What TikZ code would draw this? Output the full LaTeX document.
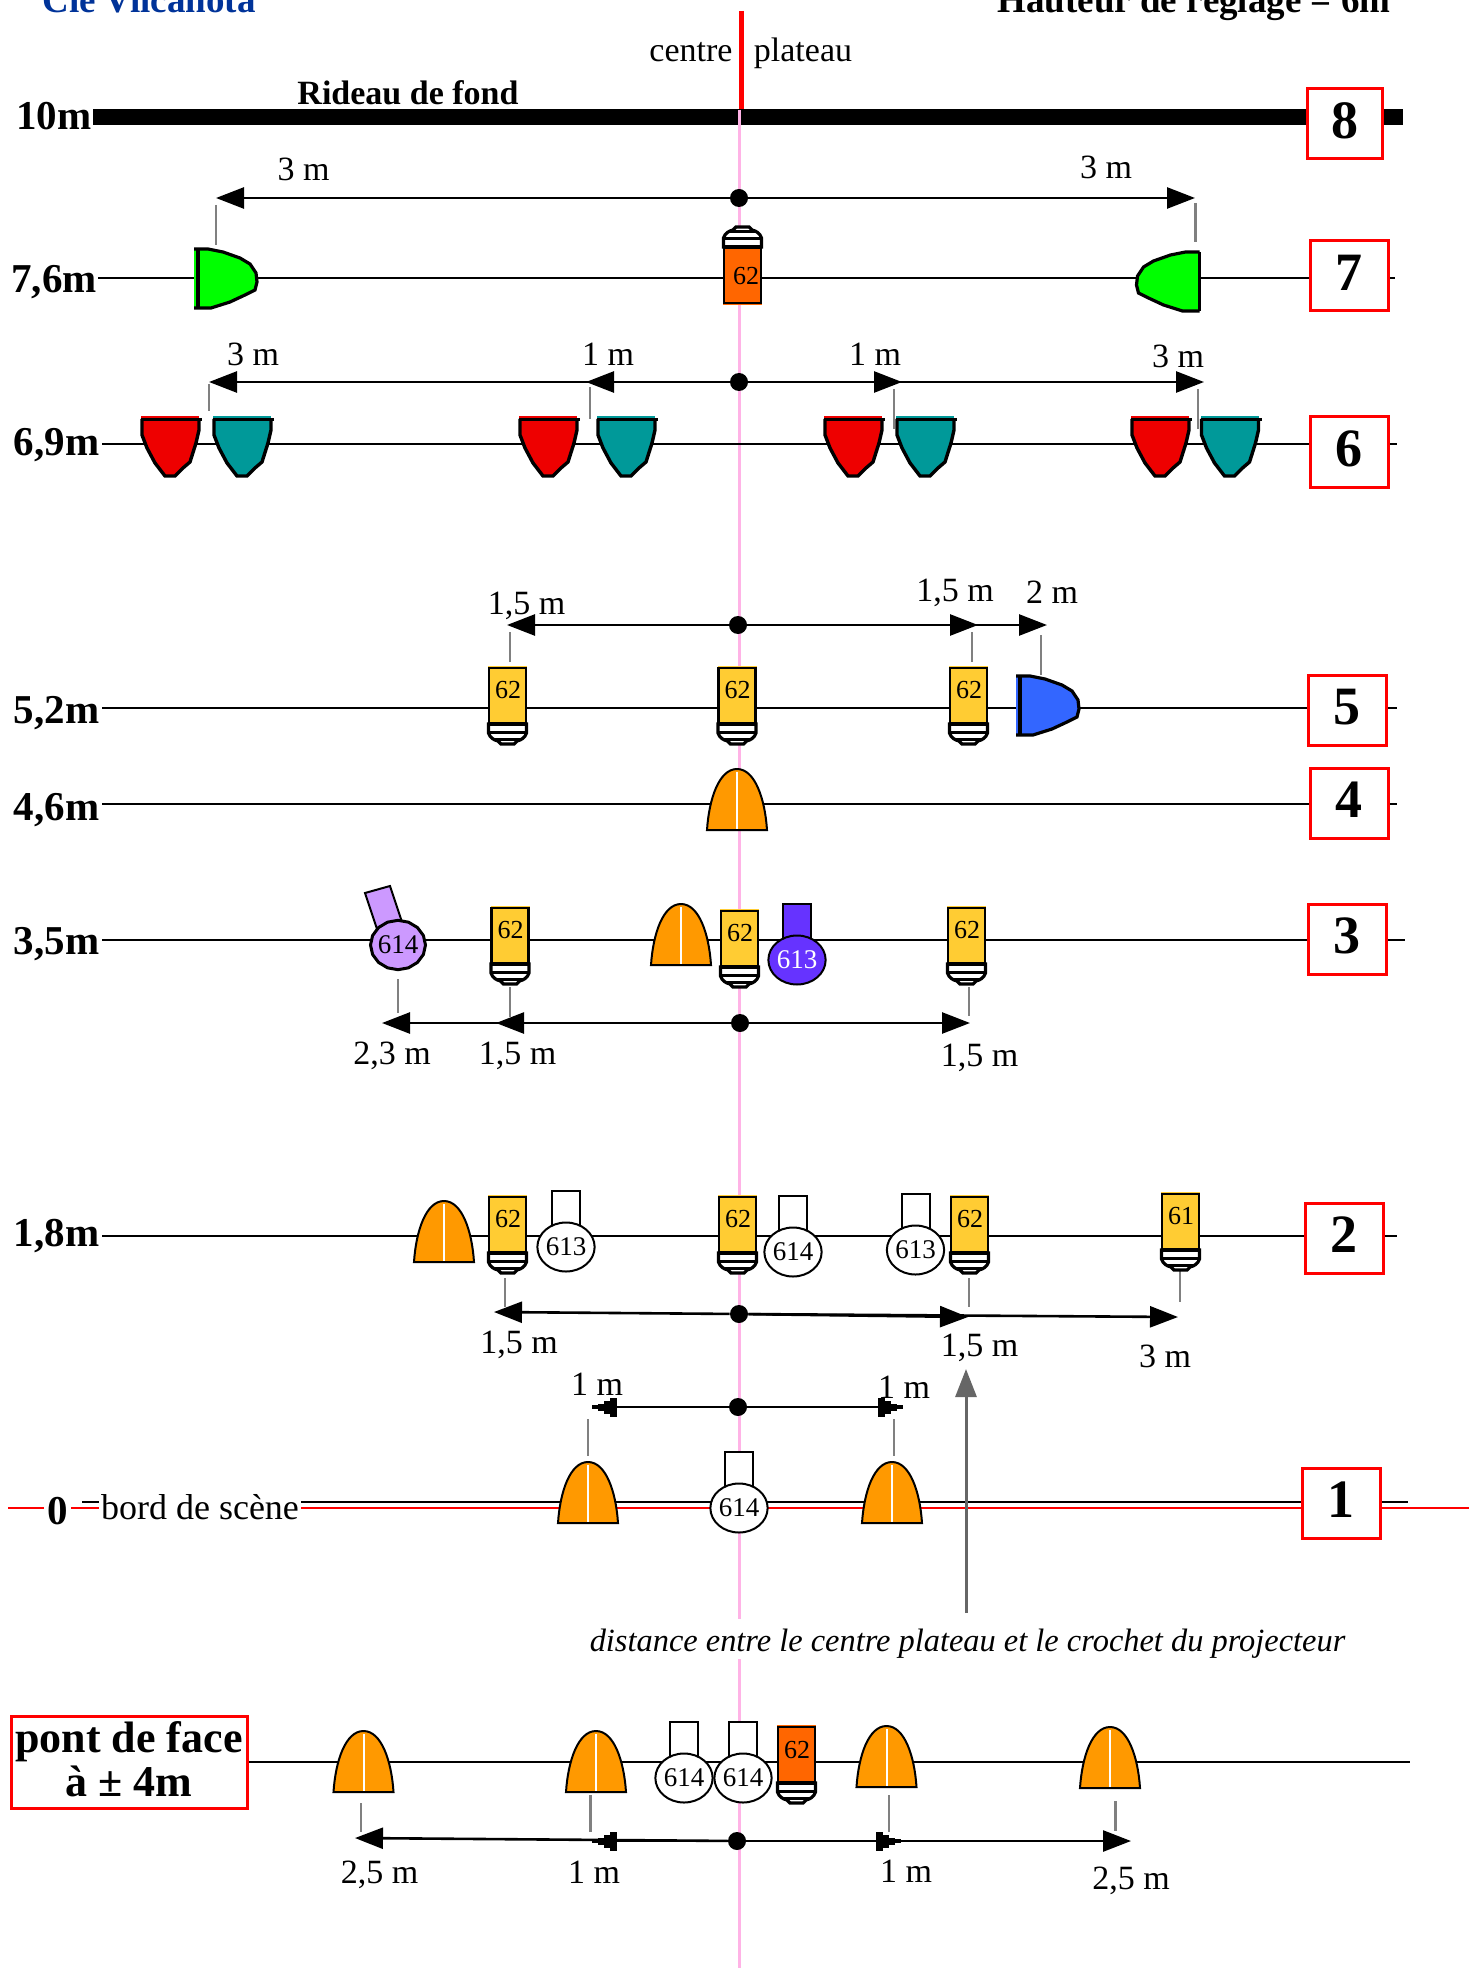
\documentclass[tikz,border=0pt]{standalone}
\usepackage{fontspec}
\setmainfont{Liberation Serif}
\usetikzlibrary{arrows.meta,shapes.geometric,calc}

\definecolor{orangelamp}{HTML}{FF9900}
\definecolor{yellowlamp}{HTML}{FFCC33}
\definecolor{darklamp}{HTML}{FF6600}
\definecolor{greenlamp}{HTML}{00FF00}
\definecolor{bluelamp}{HTML}{3366FF}
\definecolor{purplelamp}{HTML}{CC99FF}
\definecolor{violetlamp}{HTML}{6633FF}
\definecolor{redlamp}{HTML}{EE0000}
\definecolor{teallamp}{HTML}{009999}
\definecolor{titleblue}{HTML}{003399}
\definecolor{axispink}{HTML}{FFB3E6}

\tikzset{
  lamp/.style={draw=black, line width=1pt},
  rail/.style={draw=black, line width=1.2pt},
  redrail/.style={draw=red, line width=1.4pt},
  ticklink/.style={draw=black!50, line width=1.1pt},
  dimline/.style={draw=black, line width=1.3pt, -{Triangle[length=14pt,width=10.5pt]}},
  stepline/.style={draw=black, line width=1.3pt, -{Rectangle[length=3.5pt,width=9.5pt] Rectangle[length=3pt,width=6.5pt] Rectangle[length=3pt,width=3.5pt] Rectangle[length=3pt,width=2pt]}},
  dimdot/.style={circle, fill=black, minimum size=9pt, inner sep=0pt},
  txt/.style={anchor=base, inner sep=0pt, yshift=-0.5pt, font=\fontsize{17}{20}\selectfont},
  boldtxt/.style={anchor=base, inner sep=0pt, yshift=-0.5pt, font=\fontsize{17}{20}\selectfont\bfseries},
  heighttxt/.style={anchor=base, inner sep=0pt, yshift=-1.2pt, font=\fontsize{20.5}{24}\selectfont\bfseries},
  titletxt/.style={anchor=base, inner sep=0pt, yshift=-0.8pt, font=\fontsize{18.5}{22}\selectfont\bfseries},
  numtxt/.style={inner sep=0pt, font=\fontsize{13}{15}\selectfont},
  redbox/.style={draw=red, line width=1.5pt, fill=white, inner sep=0pt, minimum width=39pt, minimum height=35pt, text depth=3.5pt, font=\fontsize{27}{30}\selectfont\bfseries},
  spotlamp/.style={ellipse, draw=black, line width=1pt, fill=white, minimum width=27pt, minimum height=24.5pt, inner sep=0pt, font=\fontsize{13.5}{15}\selectfont}
}

\newcommand{\bulbshape}[3]{
  \begin{scope}[shift={(#1,#2)}]
    \fill[#3] (0,-1) rectangle (39,56);
    \draw[lamp, line width=1.2pt] (1,1) rectangle (38,56);
    \draw[lamp, fill=white, line width=1.6pt] (0.5,57) -- (0.5,66) .. controls (2,71) and (6,73) .. (10,74) -- (13,77) -- (26,77) -- (29,74) .. controls (33,73) and (37,71) .. (38.5,66) -- (38.5,57) -- cycle;
    \draw[black, line width=2.3pt] (0,57) -- (39,57);
    \draw[black, line width=1.5pt] (1,65) -- (38,65);
    \draw[black, line width=1.5pt] (6,72) -- (33,72);
  \end{scope}
}
\newcommand{\bulb}[5]{
  \bulbshape{#2}{#3}{#4}
  \node[numtxt] (#1) at ($(#2,#3)+(20,23.5)$) {#5};
}
\newcommand{\domeshape}[2]{
  \begin{scope}[shift={(#1,#2)}]
    \draw[lamp, fill=orangelamp] (0,61) .. controls (2,30) and (12,0) .. (30,0) .. controls (48,0) and (58,30) .. (60,61) -- cycle;
    \draw[white, line width=1pt] (30,3) -- (30,60);
  \end{scope}
}
\newcommand{\floodshape}[4]{
  \begin{scope}[shift={(#1,#2)}]
    \fill[#3] (0,0) -- (14,0) -- (29,3) -- (46,9) -- (56,15) -- (62,24) -- (63,33) -- (61,41) -- (51,46) -- (36,53) -- (17,59) -- (0,59) -- cycle;
    \draw[lamp, line width=1.6pt] (0,0) -- (14,0) -- (29,3) -- (46,9) -- (56,15) -- (62,24) -- (63,33) -- (61,41) -- (51,46) -- (36,53) -- (17,59) -- (0,59);
    \draw[lamp, line width=1.6pt] (#4,0) -- (#4,59);
  \end{scope}
}
\newcommand{\bowlamp}[3]{
  \begin{scope}[shift={(#1,#2)}]
    \fill[#3] (0,0) rectangle (58,4);
    \draw[lamp, fill=#3, line width=1.7pt] (1,3) -- (1,19) -- (6,32) -- (14,47) -- (24,60) -- (34,60) -- (42,52) -- (49,46) -- (55,27) -- (58,14) -- (58,3);
    \draw[black, line width=1.3pt] (0,3.5) -- (61,3.5);
  \end{scope}
}
\newcommand{\spot}[5]{
  \draw[lamp, fill=#4] (#2-14,#3-56) rectangle (#2+14,#3-20);
  \node[spotlamp, fill=#4] (#1) at (#2,#3) {#5};
}
\newcommand{\gtick}[4]{
  \coordinate (#1a) at (#2,#3);
  \coordinate (#1b) at (#2,#4);
  \draw[ticklink] (#1a) -- (#1b);
}

\begin{document}
\begin{tikzpicture}[x=0.5pt, y=-0.5pt]
  \useasboundingbox (0,0) rectangle (1477,1968);

  \coordinate (rideauL) at (93,117);
  \coordinate (rideauR) at (1403,117);
  \draw[black, line width=8pt] (rideauL) -- (rideauR);

  \coordinate (redtop) at (741,11);
  \coordinate (redbot) at (741,109);
  \coordinate (axisA) at (739.5,110);
  \coordinate (axisB) at (739.5,1619);
  \coordinate (axisC) at (739.5,1659);
  \coordinate (axisD) at (739.5,1968);
  \draw[axispink, line width=1.2pt] (axisA) -- (axisB);
  \draw[axispink, line width=1.2pt] (axisC) -- (axisD);
  \draw[red, line width=2.5pt] (redtop) -- (redbot);

  \node[titletxt, text=titleblue] (cie) at (149,11) {Cie Vilcanota};
  \node[titletxt] (hauteur) at (1194,11) {Hauteur de réglage = 6m};
  \node[txt] (centre) at (691,61) {centre};
  \node[txt] (plateau) at (803,61) {plateau};
  \node[boldtxt] (rideau) at (408,104) {Rideau de fond};

  \node[heighttxt] (h10) at (54,127) {10m};
  \node[heighttxt] (h7) at (54,290) {7,6m};
  \node[heighttxt] (h6) at (56.5,453) {6,9m};
  \node[heighttxt] (h5) at (56.5,721) {5,2m};
  \node[heighttxt] (h4) at (56.5,818) {4,6m};
  \node[heighttxt] (h3) at (56.5,952) {3,5m};
  \node[heighttxt] (h2) at (56.5,1244) {1,8m};

  \foreach \name/\xa/\xb/\ya in {r7/98/1395/278, r6/102/1397/444, r5/102/1397/708, r4/102/1397/804, r3/102/1405/940, r2/102/1397/1236, rp/248/1410/1762} {
    \coordinate (\name a) at (\xa,\ya);
    \coordinate (\name b) at (\xb,\ya);
    \draw[rail] (\name a) -- (\name b);
  }

  \coordinate (redA) at (8,1508);
  \coordinate (redB) at (1469,1508);
  \coordinate (blackA) at (82,1502);
  \coordinate (blackB) at (1408,1502);
  \draw[redrail] (redA) -- (redB);
  \draw[rail] (blackA) -- (blackB);
  \node[heighttxt, fill=white, inner sep=1.5pt] (zero) at (57.5,1522) {0};
  \node[txt, fill=white, inner sep=1pt, font=\fontsize{18}{20}\selectfont] (bord) at (200,1518) {bord de scène};

  \node[redbox, minimum width=37.5pt] (box8) at (1345,124) {8};
  \node[redbox] (box7) at (1349,276) {7};
  \node[redbox] (box6) at (1349,452) {6};
  \node[redbox] (box5) at (1347,710) {5};
  \node[redbox] (box4) at (1349,803) {4};
  \node[redbox] (box3) at (1347,939) {3};
  \node[redbox] (box2) at (1344,1238) {2};
  \node[redbox] (box1) at (1341,1503) {1};
  \node[redbox, minimum width=118pt, minimum height=46pt, text depth=3.5pt, align=center, font=\fontsize{22}{22}\selectfont\bfseries] (boxpont) at (129,1762) {pont de face\\à ± 4m};

  % 7,6 m
  \node[dimdot] (dot7) at (739,198) {};
  \coordinate (l7) at (216,198);
  \coordinate (r7) at (1195,198);
  \draw[dimline] (dot7) -- (l7);
  \draw[dimline] (dot7) -- (r7);
  \node[txt] (lab7a) at (303.5,180) {3 m};
  \node[txt] (lab7b) at (1106,178) {3 m};
  \gtick{t7a}{216}{205}{245}
  \gtick{t7b}{1195.5}{203}{242}
  \floodshape{194}{249}{greenlamp}{4}
  \begin{scope}[shift={(1199.5,252)}, xscale=-1]
    \floodshape{0}{0}{greenlamp}{0}
  \end{scope}
  \begin{scope}[shift={(723,304)}, yscale=-1]
    \bulbshape{0}{0}{darklamp}
  \end{scope}
  \node[numtxt] (b7) at (746,276) {62};

  % 6,9 m
  \node[dimdot] (dot6) at (739,382) {};
  \coordinate (l6a) at (209,382);
  \coordinate (l6b) at (586,382);
  \coordinate (r6a) at (902,382);
  \coordinate (r6b) at (1204,382);
  \draw[dimline] (dot6) -- (l6a);
  \draw[dimline] (dot6) -- (l6b);
  \draw[dimline] (dot6) -- (r6a);
  \draw[dimline] (dot6) -- (r6b);
  \node[txt] (lab6a) at (253,365) {3 m};
  \node[txt] (lab6b) at (608,365) {1 m};
  \node[txt] (lab6c) at (875,365) {1 m};
  \node[txt] (lab6d) at (1178,367) {3 m};
  \gtick{t6a}{209}{384}{411}
  \gtick{t6b}{590}{387}{419}
  \gtick{t6c}{894}{389}{429}
  \gtick{t6d}{1198}{389}{429}
  \foreach \xr/\xt in {141/213, 519/597, 824/896, 1131/1200.5} {
    \bowlamp{\xr}{416}{redlamp}
    \bowlamp{\xt}{416}{teallamp}
  }

  % 5,2 m
  \node[dimdot] (dot5) at (738,625) {};
  \coordinate (l5) at (507,625);
  \coordinate (r5a) at (978,625);
  \coordinate (r5b) at (1047,625);
  \draw[dimline] (dot5) -- (l5);
  \draw[dimline] (dot5) -- (r5a);
  \draw[dimline] (dot5) -- (r5b);
  \node[txt] (lab5a) at (526.5,613) {1,5 m};
  \node[txt] (lab5b) at (955,600) {1,5 m};
  \node[txt] (lab5c) at (1052,602) {2 m};
  \gtick{t5a}{510}{632}{662}
  \gtick{t5b}{972}{632}{662}
  \gtick{t5c}{1041}{635}{675}
  \bulb{b5a}{488}{667}{yellowlamp}{62}
  \bulb{b5b}{717.5}{667}{yellowlamp}{62}
  \bulb{b5c}{949}{667}{yellowlamp}{62}
  \floodshape{1016}{676}{bluelamp}{4}

  % 4,6 m
  \domeshape{707}{769}

  % 3,5 m
  \node[dimdot] (dot3) at (740,1023) {};
  \coordinate (l3a) at (382,1023);
  \coordinate (l3b) at (496,1023);
  \coordinate (r3) at (970,1023);
  \draw[dimline] (dot3) -- (l3a);
  \draw[dimline] (dot3) -- (l3b);
  \draw[dimline] (dot3) -- (r3);
  \node[txt] (lab3a) at (392,1063) {2,3 m};
  \node[txt] (lab3b) at (517.5,1063) {1,5 m};
  \node[txt] (lab3c) at (979.5,1065) {1,5 m};
  \gtick{t3a}{398}{979}{1013}
  \gtick{t3b}{510}{987}{1017}
  \gtick{t3c}{969}{987}{1016}
  \draw[lamp, fill=purplelamp] (365,893) -- (390,886) -- (403,925) -- (378,932) -- cycle;
  \draw[lamp, fill=purplelamp, line width=1.5pt] plot[samples=17, domain=0:360] ({398+27.5*cos(\x)},{945+24.7*sin(\x)}) -- cycle;
  \node[numtxt, font=\fontsize{13.5}{15}\selectfont] (s3a) at (398,945) {614};
  \bulb{b3a}{490.5}{907}{yellowlamp}{62}
  \domeshape{651}{904}
  \bulb{b3b}{720}{910}{yellowlamp}{62}
  \spot{s3b}{797}{960}{violetlamp}{\textcolor{white}{613}}
  \bulb{b3c}{947}{907}{yellowlamp}{62}

  % 1,8 m
  \node[dimdot] (dot2) at (739,1314) {};
  \coordinate (l2) at (494,1312);
  \coordinate (r2a) at (968,1317);
  \coordinate (r2b) at (1178,1317);
  \draw[dimline] (dot2) -- (l2);
  \draw[dimline] (dot2) -- (r2a);
  \draw[dimline] (dot2) -- (r2b);
  \node[txt] (lab2a) at (519,1352) {1,5 m};
  \node[txt] (lab2b) at (979.5,1355) {1,5 m};
  \node[txt] (lab2c) at (1165,1366) {3 m};
  \gtick{t2a}{505}{1278}{1307}
  \gtick{t2b}{969}{1278}{1307}
  \gtick{t2c}{1180}{1269}{1302}
  \domeshape{414}{1201}
  \bulb{b2a}{488}{1196}{yellowlamp}{62}
  \spot{s2a}{566}{1247}{white}{613}
  \bulb{b2b}{718}{1196}{yellowlamp}{62}
  \spot{s2b}{793}{1252}{white}{614}
  \spot{s2c}{915.5}{1250}{white}{613}
  \bulb{b2c}{950}{1196}{yellowlamp}{62}
  \bulb{b2d}{1161}{1193}{yellowlamp}{61}

  % 0
  \node[dimdot] (dot1) at (738,1407) {};
  \coordinate (l1) at (592,1407);
  \coordinate (r1) at (903,1407);
  \draw[stepline] (dot1) -- (l1);
  \draw[stepline] (dot1) -- (r1);
  \node[txt] (lab1a) at (597,1394) {1 m};
  \node[txt] (lab1b) at (904,1397) {1 m};
  \gtick{t1a}{588}{1419}{1456}
  \gtick{t1b}{894}{1419}{1456}
  \domeshape{558}{1462}
  \domeshape{862}{1462}
  \spot{s1}{739}{1508}{white}{614}

  \coordinate (grayA) at (966,1613);
  \coordinate (grayB) at (966,1369);
  \draw[draw=black!60, line width=1.5pt, -{Triangle[length=14pt,width=10.5pt]}] (grayA) -- (grayB);
  \node[txt, font=\fontsize{16.2}{20}\selectfont\itshape] (distance) at (967.5,1650) {distance entre le centre plateau et le crochet du projecteur};

  % pont de face
  \node[dimdot] (dotp) at (737,1841) {};
  \coordinate (lpa) at (355,1838);
  \coordinate (lpb) at (592,1841);
  \coordinate (rpa) at (901,1841);
  \coordinate (rpb) at (1131,1841);
  \draw[dimline] (dotp) -- (lpa);
  \draw[stepline] (dotp) -- (lpb);
  \draw[stepline] (dotp) -- (rpa);
  \draw[dimline] (dotp) -- (rpb);
  \node[txt] (labpa) at (379.5,1882) {2,5 m};
  \node[txt] (labpb) at (594,1882) {1 m};
  \node[txt] (labpc) at (906,1881) {1 m};
  \node[txt] (labpd) at (1131,1888) {2,5 m};
  \gtick{tpa}{361}{1803}{1832}
  \gtick{tpb}{590.5}{1795}{1832}
  \gtick{tpc}{889}{1795}{1832}
  \gtick{tpd}{1115.5}{1801}{1831}
  \domeshape{333.5}{1731}
  \domeshape{566}{1731}
  \domeshape{856.5}{1726}
  \domeshape{1080}{1727}
  \spot{spa}{684}{1778}{white}{614}
  \spot{spb}{743}{1778}{white}{614}
  \bulb{bp}{777}{1726}{darklamp}{62}
\end{tikzpicture}
\end{document}
